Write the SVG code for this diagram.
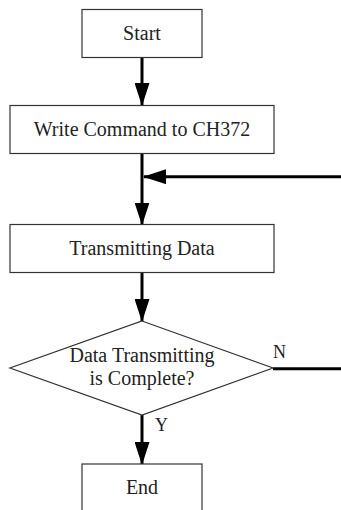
<svg xmlns="http://www.w3.org/2000/svg" width="341" height="510" viewBox="0 0 341 510">
<style>
.box{fill:#fff;stroke:#333;stroke-width:1.2}
.t{font-family:"Liberation Serif","Times New Roman",serif;font-size:20px;fill:#222;text-anchor:middle}
.lbl{font-family:"Liberation Serif","Times New Roman",serif;font-size:18px;fill:#222}
.c{fill:none;stroke:#000;stroke-width:3}
</style>
<defs>
<marker id="ah" markerUnits="userSpaceOnUse" markerWidth="23" markerHeight="15" refX="22" refY="7.5" orient="auto">
<path d="M0,0 L23,7.5 L0,15 z" fill="#000"/>
</marker>
</defs>
<rect width="341" height="510" fill="#fff"/>
<g id="connectors">
<line class="c" x1="142" y1="57.5" x2="142" y2="105" marker-end="url(#ah)"/>
<line class="c" x1="142" y1="153" x2="142" y2="224.5" marker-end="url(#ah)"/>
<line class="c" x1="341" y1="176.7" x2="144" y2="176.7" marker-end="url(#ah)"/>
<line class="c" x1="142" y1="272.5" x2="142" y2="321" marker-end="url(#ah)"/>
<line class="c" x1="273" y1="368.7" x2="341" y2="368.7"/>
<line class="c" x1="142" y1="415" x2="142" y2="464" marker-end="url(#ah)"/>
<text class="lbl" x="273" y="358">N</text>
<text class="lbl" x="155" y="431">Y</text>
</g>
<g id="start">
<rect class="box" x="82" y="9.5" width="120" height="48"/>
<text class="t" x="142" y="39.5">Start</text>
</g>
<g id="write">
<rect class="box" x="10" y="105.5" width="264" height="48"/>
<text class="t" x="142" y="135.5">Write Command to CH372</text>
</g>
<g id="transmit">
<rect class="box" x="10" y="224.5" width="264" height="48"/>
<text class="t" x="142" y="254.5">Transmitting Data</text>
</g>
<g id="decision">
<polygon class="box" points="142,321 273,368 142,415 10,368"/>
<text class="t" x="142" y="361.5">Data Transmitting</text>
<text class="t" x="142" y="385">is Complete?</text>
</g>
<g id="end">
<rect class="box" x="82" y="464" width="120" height="60"/>
<text class="t" x="142" y="494">End</text>
</g>
</svg>
